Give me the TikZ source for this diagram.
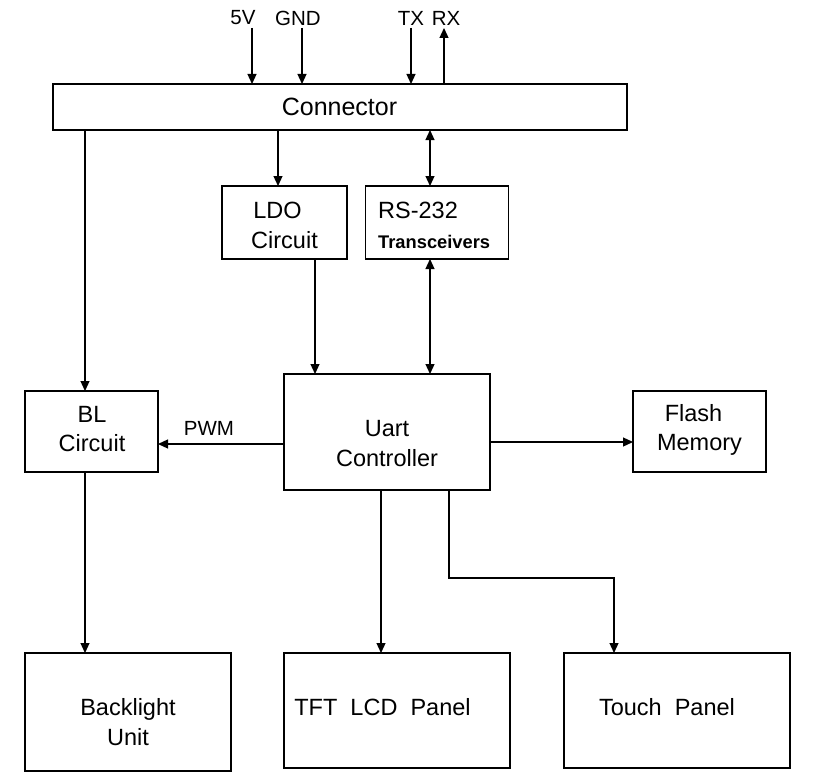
\documentclass[tikz,border=0pt]{standalone}
\usepackage{fontspec}
\setmainfont{Liberation Sans}
\usetikzlibrary{arrows.meta}
\begin{document}
\begin{tikzpicture}[x=1pt,y=-1pt,
  box/.style={draw,line width=1.2pt,inner sep=0pt,outer sep=0pt},
  txt/.style={inner sep=0pt,align=center,font=\fontsize{23.5}{29.5}\selectfont},
  lbl/.style={inner sep=0pt,font=\fontsize{20.5}{22}\selectfont},
  arr/.style={line width=1.2pt,-{Triangle[length=10pt,width=9pt]}},
  darr/.style={line width=1.2pt,{Triangle[length=10pt,width=9pt]}-{Triangle[length=10pt,width=9pt]}}]
\useasboundingbox (0,0) rectangle (816,781);
\node[box,minimum width=574,minimum height=46] (con) at (340,107) {};
\node[box,minimum width=125,minimum height=73] (ldo) at (284.5,222.5) {};
\node[box,minimum width=143,minimum height=73] (rs) at (437,222.5) {};
\node[box,minimum width=133,minimum height=81] (bl) at (91.5,431.5) {};
\node[box,minimum width=206,minimum height=116] (uart) at (387,432) {};
\node[box,minimum width=133,minimum height=81] (flash) at (699.5,431.5) {};
\node[box,minimum width=206,minimum height=118] (blu) at (128,712) {};
\node[box,minimum width=226,minimum height=115] (tft) at (397,710.5) {};
\node[box,minimum width=226,minimum height=115] (touch) at (677,710.5) {};
% texts
\node[txt,font=\fontsize{25}{30}\selectfont] (conT) at (339.5,107) {Connector};
\node[txt] (ldoT) at (284.5,225.5) {LDO\hspace*{14pt}\\Circuit};
\node[txt,align=left,anchor=west] (rsT) at (378,225.5) {RS-232\\{\fontsize{18.3}{29.5}\selectfont\bfseries Transceivers}};
\node[txt] (blT) at (92,429) {BL\\Circuit};
\node[txt] (uartT) at (387,443.5) {Uart\\Controller};
\node[txt] (flashT) at (699.5,430) {Flash\hspace*{12pt}\\Memory};
\node[txt] (bluT) at (128,722) {Backlight\\Unit};
\node[txt] (tftT) at (382.5,707) {TFT\ \ LCD\ \ Panel};
\node[txt] (touchT) at (667,707) {Touch\ \ Panel};
% top signals
\coordinate (v5) at (252,28);
\coordinate (gnd) at (302,28);
\coordinate (tx) at (411,28);
\coordinate (rx) at (444,28);
\node[lbl] (l5) at (243,18) {5V};
\node[lbl] (lg) at (298,18) {GND};
\node[lbl] (lt) at (411,18) {TX};
\node[lbl] (lr) at (446,18) {RX};
\draw[arr] (v5) -- (v5 |- con.north);
\draw[arr] (gnd) -- (gnd |- con.north);
\draw[arr] (tx) -- (tx |- con.north);
\draw[arr] (rx |- con.north) -- (rx);
% connections
\draw[arr] ([xshift=-6.5]ldo.north |- con.south) -- ([xshift=-6.5]ldo.north);
\draw[darr] ([xshift=-7]rs.north |- con.south) -- ([xshift=-7]rs.north);
\draw[arr] ([xshift=-6.5]bl.north |- con.south) -- ([xshift=-6.5]bl.north);
\draw[arr] ([xshift=30.5]ldo.south) -- ([xshift=30.5]ldo.south |- uart.north);
\draw[darr] ([xshift=-7]rs.south) -- ([xshift=-7]rs.south |- uart.north);
\draw[arr] ([yshift=-12]uart.west) -- ([yshift=-12]uart.west -| bl.east);
\node[lbl] (pwm) at (209,428) {PWM};
\draw[arr] ([yshift=-10]uart.east) -- ([yshift=-10]uart.east -| flash.west);
\draw[arr] ([xshift=-6.5]bl.south) -- ([xshift=-6.5]bl.south |- blu.north);
\draw[arr] ([xshift=-6]uart.south) -- ([xshift=-6]uart.south |- tft.north);
\draw[arr] ([xshift=62]uart.south) -- ++(0,88) -| ([xshift=-63]touch.north);
\end{tikzpicture}
\end{document}
